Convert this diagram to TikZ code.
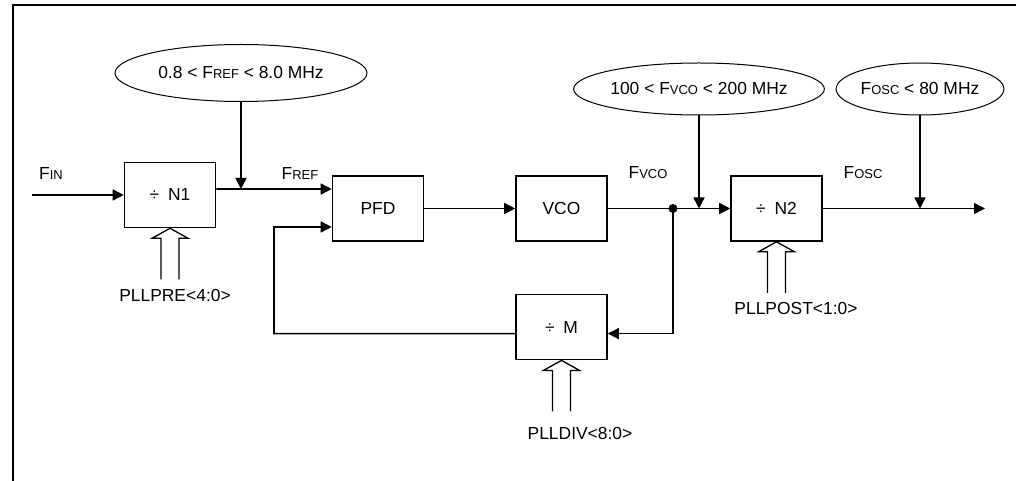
\documentclass[tikz,border=0pt]{standalone}
\usepackage{fontspec}
\setmainfont{Liberation Sans}
\usetikzlibrary{positioning, shapes.geometric, arrows.meta}
\newcommand{\lowcaps}[1]{{\fontsize{13}{15}\selectfont #1}}
\tikzset{busarrow/.pic={\draw[-,line width=1.3bp] (-9,51) -- (-9,10) -- (-18,10) -- (0,0) -- (18,10) -- (9,10) -- (9,51);}}

\begin{document}
\begin{tikzpicture}[x=1bp,y=-1bp,->,>={Triangle[length=11bp,width=11bp]},line width=1.6bp,font=\fontsize{17.5}{21}\selectfont]
  \tikzstyle{block}=[rectangle,draw,minimum width=91bp,minimum height=65bp,inner sep=0pt]
  \tikzstyle{limit}=[ellipse,draw,line width=1bp,inner sep=0pt]

  \useasboundingbox (0,0) rectangle (1016,481);
  \draw[-,line width=1.8bp] (13,481) -- (13,5) -- (1016,5);

  \node[block] (n1) at (170,195) {÷\enspace N1};
  \node[block] (pfd) at (378,208.5) {PFD};
  \node[block] (vco) at (561.5,208.5) {VCO};
  \node[block] (n2) at (776.5,208.5) {÷\enspace N2};
  \node[block] (m) [below=52bp of vco] {÷\enspace M};

  \node[limit,minimum width=252bp,minimum height=57bp] (e1) at (241,73) {0.8 < F\lowcaps{REF} < 8.0 MHz};
  \node[limit,minimum width=228bp,minimum height=52bp] (e2) at (699,89) {100 < F\lowcaps{VCO} < 200 MHz};
  \node[limit,minimum width=157bp,minimum height=52bp] (e3) at (920,89) {F\lowcaps{OSC} < 80 MHz};

  \node (finlbl) at (51,174) {F\lowcaps{IN}};
  \node (freflbl) at (300,174) {F\lowcaps{REF}};
  \node (fvcolbl) at (648,173) {F\lowcaps{VCO}};
  \node (fosclbl) at (863,173) {F\lowcaps{OSC}};

  \node (prelbl) at (175,295) {PLLPRE<4:0>};
  \node (postlbl) at (796,308) {PLLPOST<1:0>};
  \node (divlbl) at (580,433) {PLLDIV<8:0>};

  \coordinate (fin) at (32,195);
  \coordinate (j1) at (241,189);
  \coordinate (dot) at (673,208.5);
  \coordinate (out) at (985,208.5);
  \coordinate (fb) at (274,227);

  % forward path
  \draw (fin) -- (n1);
  \draw ([yshift=6bp]n1.east) -- ([yshift=19.5bp]pfd.west);
  \draw (e1) -- (j1);
  \draw (pfd) -- (vco);
  \draw (vco) -- (n2);
  \fill[-] (dot) circle (4.5);
  \draw (e2) -- (e2 |- dot);
  \draw (n2) -- (out);
  \draw (e3) -- (e3 |- out);

  % feedback loop
  \draw (dot) |- ([yshift=-6.5bp]m.east);
  \draw ([yshift=-6.5bp]m.west) -| (fb) -- ([yshift=-18.5bp]pfd.west);

  \foreach \b in {n1,m,n2}
    \pic at (\b.south) {busarrow};
\end{tikzpicture}
\end{document}
